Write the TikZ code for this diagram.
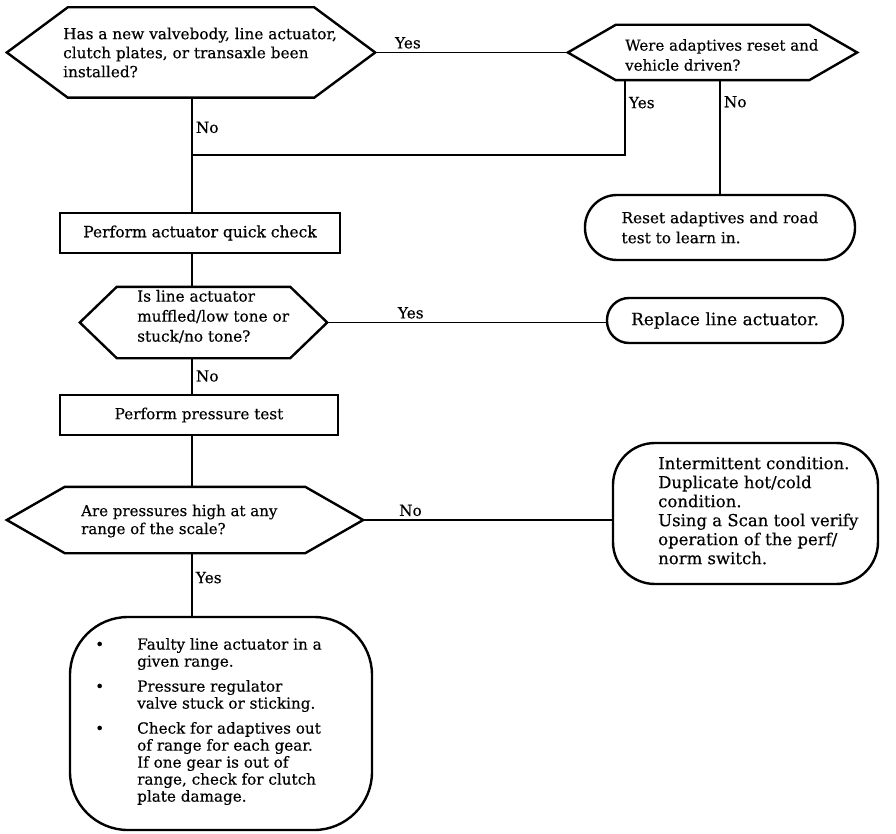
\documentclass[tikz,border=0pt]{standalone}
\usepackage{fontspec}
\setmainfont[FakeBold=0.4]{DejaVu Serif}
\usetikzlibrary{calc}
\newcommand{\hexout}[2]{\draw[outline] (#1.west) -- ([xshift=#2]#1.north west) -- ([xshift=-#2]#1.north east) -- (#1.east) -- ([xshift=-#2]#1.south east) -- ([xshift=#2]#1.south west) -- cycle;}
\begin{document}
\begin{tikzpicture}[x=1pt,y=-1pt,
  font=\fontsize{15.3}{19}\selectfont,
  hexnode/.style={draw=none, rectangle, inner sep=0pt},
  outline/.style={line width=2.4pt, line join=miter},
  conn/.style={line width=1.9pt},
  txt/.style={anchor=west, align=left, inner sep=0pt},
  lbl/.style={inner sep=3pt},
  procbox/.style={draw, line width=2.4pt, rectangle, inner sep=0pt},
  termbox/.style={draw, line width=2.4pt, rectangle, inner sep=0pt, align=left}]
\useasboundingbox (0,0) rectangle (896,834);
% spine
\coordinate (spine) at (192,0);
\coordinate (join) at (192,155);
\coordinate (yx) at (625,0);
% decisions
\node[hexnode, minimum width=368pt, minimum height=90pt] (h1) at (191,52.5) {};
\hexout{h1}{61pt}
\node[txt] (h1t) at (63,52.5) {Has a new valvebody, line actuator,\\clutch plates, or transaxle been\\installed?};
\node[hexnode, minimum width=289pt, minimum height=55pt] (h2) at (712.5,52.5) {};
\hexout{h2}{48pt}
\node[txt, font=\fontsize{15}{20}\selectfont] (h2t) at (625,55) {Were adaptives reset and\\vehicle driven?};
\node[hexnode, minimum width=247pt, minimum height=71pt] (h3) at (203.5,322.5) {};
\hexout{h3}{37pt}
\node[txt, font=\fontsize{15.3}{20}\selectfont] (h3t) at (137,316.5) {Is line actuator\\muffled/low tone or\\stuck/no tone?};
\node[hexnode, minimum width=356pt, minimum height=66pt] (h4) at (185,520) {};
\hexout{h4}{58pt}
\node[txt, font=\fontsize{15}{18}\selectfont] (h4t) at (81,521) {Are pressures high at any\\range of the scale?};
% process boxes
\node[procbox, minimum width=280pt, minimum height=40pt, font=\fontsize{15.5}{19}\selectfont] (b1) at (200,233) {Perform actuator quick check};
\node[procbox, minimum width=278pt, minimum height=40pt, font=\fontsize{15.2}{19}\selectfont] (b2) at (199,415) {Perform pressure test};
% terminals
\node[termbox, rounded corners=32pt, minimum width=270pt, minimum height=65pt, font=\fontsize{15.3}{20}\selectfont] (e1) at (720,227.5) {Reset adaptives and road\\test to learn in.};
\node[termbox, rounded corners=22pt, minimum width=236pt, minimum height=45pt, font=\fontsize{17}{20}\selectfont] (e2) at (725,320.5) {Replace line actuator.};
\node[termbox, rounded corners=42pt, minimum width=265pt, minimum height=141pt] (r1) at (745.5,513.5) {};
\node[txt, font=\fontsize{16.5}{19}\selectfont] (r1t) at (658,510.5) {Intermittent condition.\\Duplicate hot/cold\\condition.\\Using a Scan tool verify\\operation of the perf/\\norm switch.};
\node[termbox, rounded corners=58pt, minimum width=302pt, minimum height=213pt] (b3) at (221,723.5) {};
\node[txt, font=\fontsize{15.2}{17}\selectfont] (b3t) at (95,721.5) {\makebox[42pt][l]{\textbullet}Faulty line actuator in a\\
\hspace*{42pt}given range.\\[8pt]
\makebox[42pt][l]{\textbullet}Pressure regulator\\
\hspace*{42pt}valve stuck or sticking.\\[8pt]
\makebox[42pt][l]{\textbullet}Check for adaptives out\\
\hspace*{42pt}of range for each gear.\\
\hspace*{42pt}If one gear is out of\\
\hspace*{42pt}range, check for clutch\\
\hspace*{42pt}plate damage.};
% connectors
\draw[conn] (h1.east) -- node[lbl, pos=0.17, above] (l1) {Yes} (h2.west);
\draw[conn] (h1.south -| spine) -- node[lbl, pos=0.26, right] (l2) {No} (b1.north -| spine);
\draw[conn] (h2.south -| yx) -- node[lbl, pos=0.3, right] (l3) {Yes} (yx |- join) -- (join);
\draw[conn] (h2.south -| e1.north) -- node[lbl, pos=0.19, right] (l4) {No} (e1.north);
\draw[conn] (b1.south -| spine) -- (h3.north -| spine);
\draw[conn] (h3.east) -- node[lbl, pos=0.3, above] (l5) {Yes} (h3.east -| e2.west);
\draw[conn] (h3.south -| spine) -- node[lbl, pos=0.5, right] (l6) {No} (b2.north -| spine);
\draw[conn] (b2.south -| spine) -- (h4.north -| spine);
\draw[conn] (h4.east) -- node[lbl, pos=0.19, above] (l7) {No} (h4.east -| r1.west);
\draw[conn] (h4.south -| spine) -- node[lbl, pos=0.39, right] (l8) {Yes} (b3.north -| spine);
\end{tikzpicture}
\end{document}
